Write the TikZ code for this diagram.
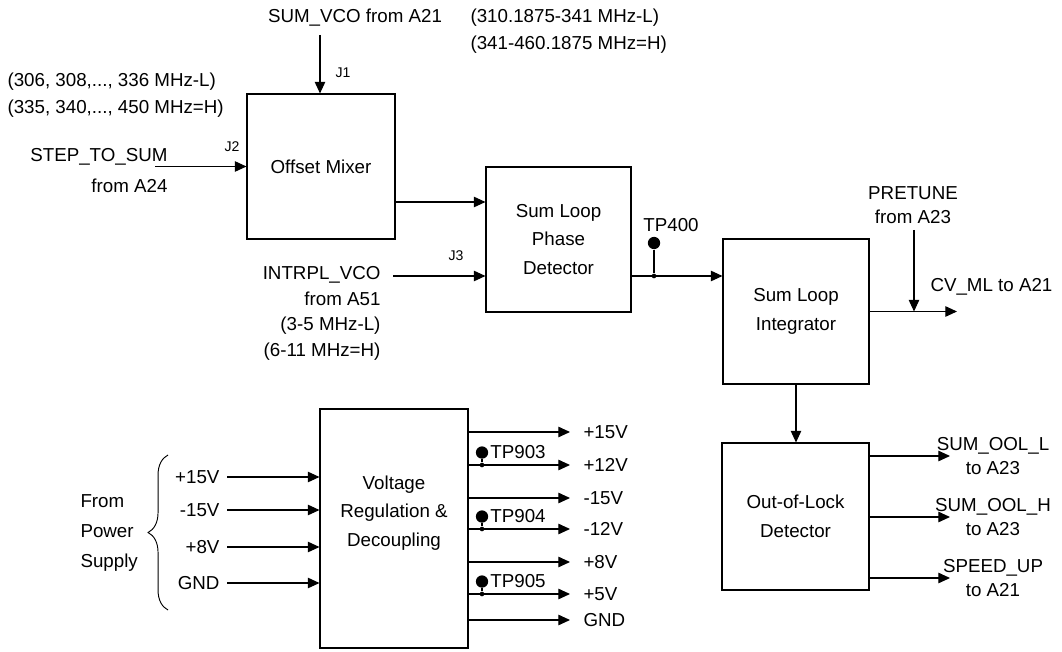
\documentclass[tikz,border=0pt]{standalone}
\usepackage{fontspec}
\setmainfont{Liberation Sans}
\usetikzlibrary{arrows.meta, positioning, decorations.pathreplacing}
\tikzset{
    block/.style 2 args={
        draw, minimum width=#1, minimum height=#2,
        align=center, font=\fontsize{16}{24.5}\selectfont
    },
    txt/.style={inner sep=0pt, align=center},
    jlbl/.style={inner sep=0pt, font=\fontsize{12}{14}\selectfont}
}

\begin{document}
\begin{tikzpicture}[
        x=0.03cm, y=-0.03cm, line width=0.9pt,
        font=\fontsize{16}{23}\selectfont,
        sig/.style={-{Triangle[length=10pt, width=9pt]}},
        tp/.style={circle, fill, inner sep=0pt, minimum size=10.5pt},
        dot/.style={circle, fill, inner sep=0pt, minimum size=4pt}]
    \useasboundingbox (0,0) rectangle (1062,652);

    % blocks
    \node[block={4.44cm}{4.35cm}] (mixer) at (321,166.5) {Offset Mixer};
    \node[block={4.35cm}{4.35cm}] (phase) at (558.5,239.5) {Sum Loop\\Phase\\Detector};
    \node[block={4.38cm}{4.35cm}] (integ) at (796,311.5) {Sum Loop\\Integrator};
    \node[block={4.41cm}{4.41cm}] (ool) at (795.5,516.5) {Out-of-Lock\\Detector};
    \node[block={4.44cm}{7.17cm}] (vreg) at (394,528.5) {};
    \node[txt, font=\fontsize{16}{24.5}\selectfont] (vregtxt) at (394,513)
        {Voltage\\Regulation \&\\Decoupling};

    % offset mixer inputs
    \node[txt] (sumvco) at (355,18) {SUM\_VCO from A21};
    \node[txt, anchor=west, align=left] (sumfreq) at (470,31.5)
        {(310.1875-341 MHz-L)\\(341-460.1875 MHz=H)};
    \coordinate (j1in) at (320,35);
    \draw[sig] (j1in) -- (j1in |- mixer.north);
    \node[jlbl] (j1) at (343,73) {J1};

    \node[txt, anchor=west, align=left] (stepfreq) at (7,95.5)
        {(306, 308,..., 336 MHz-L)\\(335, 340,..., 450 MHz=H)};
    \node[txt, anchor=east, align=right] (step) at (168,170.5)
        {STEP\_TO\_SUM\\[3.5pt]from A24};
    \coordinate (j2in) at (155,166.5);
    \draw[sig] (j2in) -- (mixer.west);
    \node[jlbl] (j2) at (232,147) {J2};

    % phase detector
    \coordinate (mixo) at (395,202);
    \draw[sig] (mixo) -- (mixo -| phase.west);
    \node[txt, anchor=east, align=right, font=\fontsize{16}{22}\selectfont] (intrpl)
        at (381,313.5) {INTRPL\_VCO\\from A51\\(3-5 MHz-L)\\(6-11 MHz=H)};
    \coordinate (j3in) at (393,276);
    \draw[sig] (j3in) -- (j3in -| phase.west);
    \node[jlbl] (j3) at (456,256) {J3};

    \coordinate (tpj) at (654,276);
    \draw[sig] (phase.east |- tpj) -- (tpj -| integ.west);
    \node[dot] (tpjd) at (tpj) {};
    \node[tp] (tp400) at (654,243) {};
    \draw (tp400) -- (tpjd);
    \node[txt] (tp400lbl) at (671,225) {TP400};

    % integrator
    \coordinate (cvout) at (957,311.5);
    \draw[sig] (integ.east) -- (cvout);
    \node[txt, anchor=west] (cvml) at (930,287) {CV\_ML to A21};
    \node[txt, font=\fontsize{16}{21}\selectfont] (pretune) at (913,205) {PRETUNE\\from A23};
    \coordinate (ptin) at (914,230);
    \draw[sig] (ptin) -- (ptin |- cvout);
    \draw[sig] (integ.south) -- (integ.south |- ool.north);

    % out-of-lock outputs
    \foreach \y/\name/\dest [count=\i] in {456/SUM\_OOL\_L/A23, 517/SUM\_OOL\_H/A23, 578/SPEED\_UP/A21} {
        \coordinate (oolo\i) at (950,\y);
        \draw[sig] (oolo\i -| ool.east) -- (oolo\i);
        \node[txt, font=\fontsize{16}{20}\selectfont] (oollbl\i) at (993,\y) {\name\\to \dest};
    }

    % power supply
    \node[txt, anchor=west, align=left, font=\fontsize{16}{25.5}\selectfont] (psu)
        at (80,533) {From\\Power\\Supply};
    \draw[decorate, decoration={brace, amplitude=17pt}, line width=0.8pt] (168,610) -- (168,455);
    \foreach \y/\v [count=\i] in {477/+15V, 510/-15V, 547/+8V, 583/GND} {
        \node[txt, anchor=east] (vin\i) at (220,\y) {\v};
        \coordinate (vinx\i) at (227,\y);
        \draw[sig] (vinx\i) -- (vinx\i -| vreg.west);
    }
    \foreach \y/\v [count=\i] in {432/+15V, 465/+12V, 498/-15V, 529/-12V, 562/+8V, 594/+5V, 620/GND} {
        \coordinate (vout\i) at (570,\y);
        \draw[sig] (vout\i -| vreg.east) -- (vout\i);
        \node[txt, anchor=west] (voutlbl\i) at (583,\y) {\v};
    }
    \foreach \i/\n in {2/903, 4/904, 6/905} {
        \node[dot] (tpj\n) at (vout\i -| 482,0) {};
        \node[tp, above=2.5pt of tpj\n] (tp\n) {};
        \draw (tp\n) -- (tpj\n);
        \node[txt, anchor=west, xshift=1pt] (tplbl\n) at (tp\n.east) {TP\n};
    }
\end{tikzpicture}
\end{document}
